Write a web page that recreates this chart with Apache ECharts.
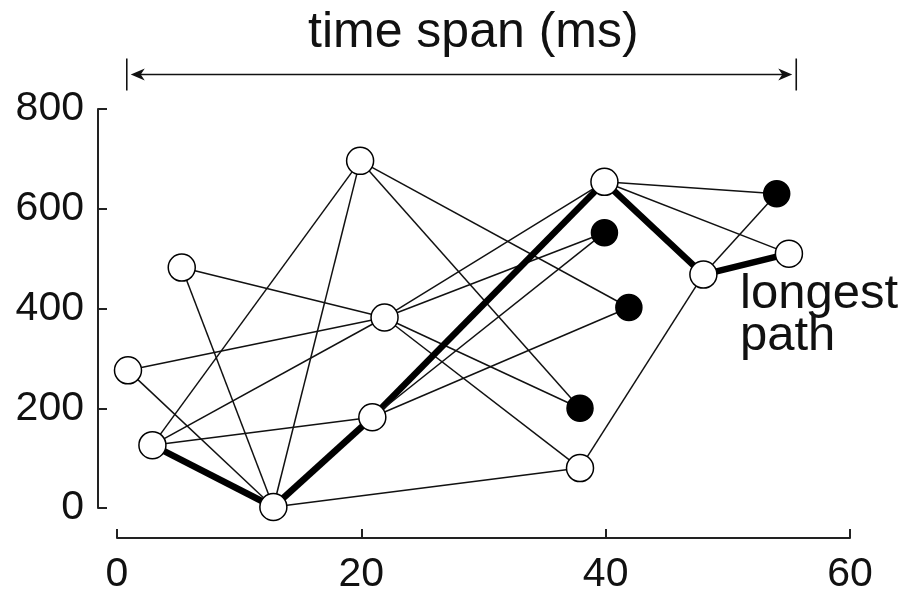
<!DOCTYPE html>
<html>
<head>
<meta charset="utf-8">
<script src="https://cdn.jsdelivr.net/npm/echarts@6/dist/echarts.min.js"></script>
<style>
  html, body { margin: 0; padding: 0; background: #fff; }
  #chart { width: 910px; height: 592px; }
</style>
</head>
<body>
<div id="chart"></div>
<script>
// Task graph: each node is a task placed at (start time in ms, memory/size value)
const nodeX = [0.9, 2.9, 5.3, 12.8, 19.9, 20.9, 21.9, 37.9, 39.9, 48.0, 55.0, 39.9, 41.9, 37.9, 54.0];
const nodeY = [276, 126, 482, 2, 696, 182, 382, 80, 654, 468, 510, 552, 402, 200, 630];
// 1 = terminal task (filled), 0 = regular task (open)
const nodeFilled = [0, 0, 0, 0, 0, 0, 0, 0, 0, 0, 0, 1, 1, 1, 1];

// Dependencies between tasks (indices into the node arrays)
const edges = [
  [0, 6], [0, 3], [2, 6], [2, 3],
  [1, 4], [1, 6], [1, 5], [1, 3],
  [3, 4], [3, 5], [3, 7],
  [4, 12], [4, 13],
  [6, 8], [6, 11], [6, 13], [6, 7],
  [5, 8], [5, 11], [5, 12],
  [7, 9],
  [8, 14], [8, 10], [8, 9],
  [9, 10], [9, 14]
];
// Critical chain through the graph
const longestPath = [1, 3, 5, 8, 9, 10];

// Overall time span bracket above the plot
const spanStart = 0.8;
const spanEnd = 55.6;
const spanLevel = 870;

const xTicks = [0, 20, 40, 60];
const yTicks = [0, 200, 400, 600, 800];

const onPath = (a, b) => {
  for (let i = 0; i < longestPath.length - 1; i++) {
    const p = longestPath[i], q = longestPath[i + 1];
    if ((a === p && b === q) || (a === q && b === p)) return true;
  }
  return false;
};

const nodes = nodeX.map((x, i) => ({
  value: [x, nodeY[i]],
  symbolSize: nodeFilled[i] ? 26 : 27,
  itemStyle: {
    color: nodeFilled[i] ? '#000' : '#fff',
    borderColor: '#000',
    borderWidth: 1.5
  }
}));

const links = edges.map(([s, t]) => ({
  source: s,
  target: t,
  lineStyle: onPath(s, t)
    ? { width: 6.5, color: '#000', opacity: 1 }
    : { width: 1.5, color: '#111', opacity: 1 }
}));

const FONT = '"Liberation Sans", Arial, Helvetica, sans-serif';
const chart = echarts.init(document.getElementById('chart'), null, { renderer: 'canvas' });

chart.setOption({
  animation: false,
  backgroundColor: '#fff',
  grid: {
    left: 117, right: 60, top: 109, bottom: 84,
    containLabel: false,
    outerBoundsMode: 'none'
  },
  xAxis: {
    type: 'value',
    min: xTicks[0],
    max: xTicks[xTicks.length - 1],
    interval: 20,
    offset: 30,
    splitLine: { show: false },
    axisLine: { show: true, onZero: false, lineStyle: { color: '#222', width: 2 } },
    axisTick: { show: true, inside: true, length: 9, lineStyle: { color: '#222', width: 2 } },
    axisLabel: { margin: 16, fontFamily: FONT, fontSize: 41, color: '#111' }
  },
  yAxis: {
    type: 'value',
    min: yTicks[0],
    max: yTicks[yTicks.length - 1],
    interval: 200,
    offset: 19,
    splitLine: { show: false },
    axisLine: { show: true, onZero: false, lineStyle: { color: '#222', width: 2 } },
    axisTick: { show: true, inside: true, length: 9, lineStyle: { color: '#222', width: 2 } },
    axisLabel: { margin: 14, fontFamily: FONT, fontSize: 41, color: '#111' }
  },
  graphic: [
    {
      type: 'text',
      left: 308,
      top: 8,
      style: {
        text: 'time span (ms)',
        font: '50px ' + FONT,
        fill: '#111'
      }
    },
    {
      type: 'text',
      left: 740,
      top: 270,
      style: {
        text: 'longest\npath',
        font: '49px ' + FONT,
        lineHeight: 42,
        fill: '#111'
      }
    }
  ],
  series: [
    {
      type: 'graph',
      coordinateSystem: 'cartesian2d',
      layout: 'none',
      symbol: 'circle',
      data: nodes,
      links: links,
      edgeSymbol: ['none', 'none'],
      label: { show: false },
      emphasis: { disabled: true },
      z: 3
    },
    {
      type: 'custom',
      clip: false,
      silent: true,
      data: [[spanStart, spanEnd, spanLevel]],
      renderItem: function (params, api) {
        const p0 = api.coord([api.value(0), api.value(2)]);
        const p1 = api.coord([api.value(1), api.value(2)]);
        const y = Math.round(p0[1]) + 0.5;
        const x0 = p0[0], x1 = p1[0];
        const head = 14, half = 6, gap = 4, bar = 16;
        const stroke = { stroke: '#111', lineWidth: 1.6 };
        return {
          type: 'group',
          children: [
            { type: 'line', shape: { x1: x0, y1: y - bar, x2: x0, y2: y + bar }, style: stroke },
            { type: 'line', shape: { x1: x1, y1: y - bar, x2: x1, y2: y + bar }, style: stroke },
            { type: 'line', shape: { x1: x0 + gap + 4, y1: y, x2: x1 - gap - 4, y2: y }, style: stroke },
            { type: 'polygon', shape: { points: [[x0 + gap, y], [x0 + gap + head, y - half], [x0 + gap + head - 4, y], [x0 + gap + head, y + half]] }, style: { fill: '#111' } },
            { type: 'polygon', shape: { points: [[x1 - gap, y], [x1 - gap - head, y - half], [x1 - gap - head + 4, y], [x1 - gap - head, y + half]] }, style: { fill: '#111' } }
          ]
        };
      },
      z: 2
    }
  ]
});
</script>
</body>
</html>
